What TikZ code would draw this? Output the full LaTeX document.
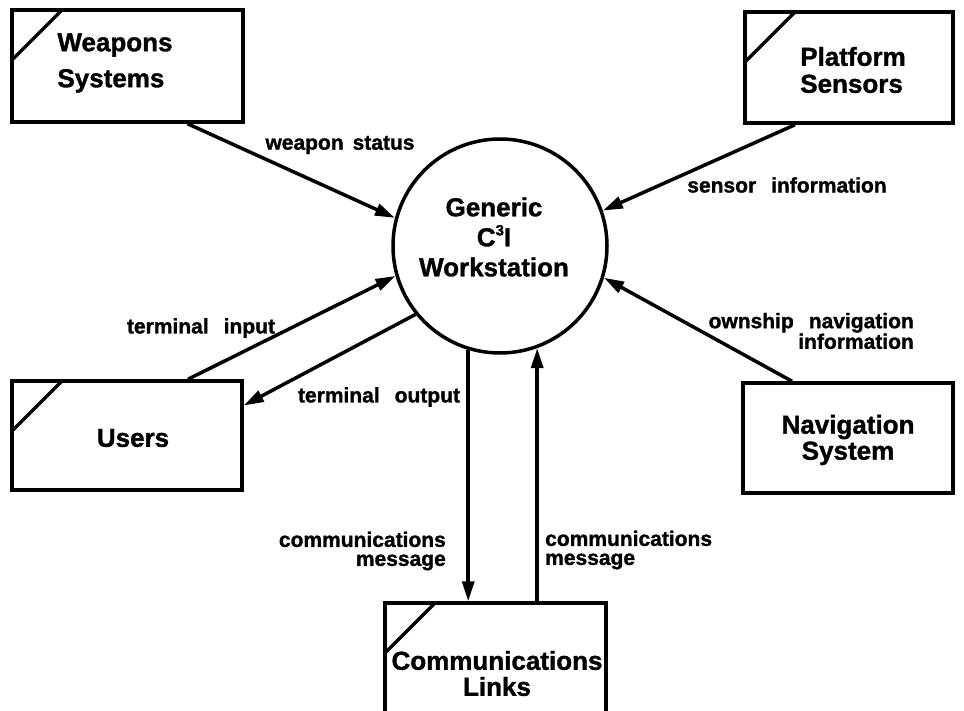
\documentclass[tikz,border=0pt]{standalone}
\usepackage{fontspec}
\setmainfont{Liberation Sans}[BoldFeatures={FakeBold=1.3}]
\usetikzlibrary{arrows.meta}
\newcommand{\boxfont}{\fontsize{26}{30}\selectfont\bfseries}
\newcommand{\lblfont}{\fontsize{21}{19}\selectfont\bfseries}
\newcommand{\wgap}{\hspace{15pt}}
\tikzset{
  ext/.style={draw, rectangle, line width=3.5pt, inner sep=0pt},
  diag/.style={path picture={\draw[line width=3.5pt]
      ([yshift=-50pt]path picture bounding box.north west) --
      ([xshift=50pt]path picture bounding box.north west);}},
  proc/.style={draw, circle, line width=3.5pt, minimum size=214pt, inner sep=0pt},
  btext/.style={font=\boxfont, inner sep=0pt},
  lbl/.style={font=\lblfont, inner sep=0pt},
  flow/.style={line width=3.5pt, -{Triangle[length=20pt,width=12pt]}}
}
\begin{document}
\begin{tikzpicture}[x=1pt,y=-1pt]
\useasboundingbox (0,0) rectangle (964,711);
% external entities
\node[ext, diag, minimum width=231pt, minimum height=112pt] (ws) at (127.5,66) {};
\node[btext, align=left, font=\fontsize{26}{36}\selectfont\bfseries] (wst) at (115,63) {Weapons\\Systems};
\node[ext, diag, minimum width=208pt, minimum height=111pt] (ps) at (849,67.5) {};
\node[btext, align=left, font=\fontsize{26}{27}\selectfont\bfseries] (pst) at (853,70) {Platform\\Sensors};
\node[ext, diag, minimum width=230pt, minimum height=109pt] (us) at (127,435.5) {};
\node[btext] (ust) at (133,438) {Users};
\node[ext, minimum width=210pt, minimum height=110pt] (nv) at (848,438) {};
\node[btext, align=center, font=\fontsize{26}{26}\selectfont\bfseries] (nvt) at (848,440) {Navigation\\System};
\node[ext, diag, minimum width=221pt, minimum height=117pt] (cl) at (495.5,661.5) {};
\node[btext, align=center, font=\fontsize{26}{26}\selectfont\bfseries] (clt) at (497,673.5) {Communications\\Links};
% process
\node[proc] (c) at (500,246) {};
\node[btext, align=center] (ct) at (494,237) {Generic\\C\raisebox{0.42em}{\fontsize{15}{15}\selectfont 3}I\\Workstation};
% flows
\draw[flow] ([xshift=60pt]ws.south) -- (c.165);
\draw[flow] ([xshift=-54pt]ps.south) -- (c.19);
\draw[flow] ([xshift=61pt]us.north) -- (c.196);
\draw[flow] (c.219) -- ([yshift=30pt]us.east);
\draw[flow] ([xshift=-56pt]nv.north) -- (c.343);
\draw[flow] (c.253) -- (c.253 |- cl.north);
\draw[flow] (c.290 |- cl.north) -- (c.290);
% labels
\node[lbl] (l1) at (340,145) {weapon\hspace{9pt}status};
\node[lbl] (l2) at (787,185) {sensor\wgap information};
\node[lbl] (l3) at (201,328) {terminal\wgap input};
\node[lbl] (l4) at (379,397) {terminal\wgap output};
\node[lbl, align=right, anchor=east] (l5) at (914,331) {ownship\wgap navigation\\information\hspace{6pt}};
\node[lbl, align=right, anchor=east] (l6) at (446,551) {communications\\message};
\node[lbl, align=left, anchor=west] (l7) at (545,550) {communications\\message};
\end{tikzpicture}
\end{document}
